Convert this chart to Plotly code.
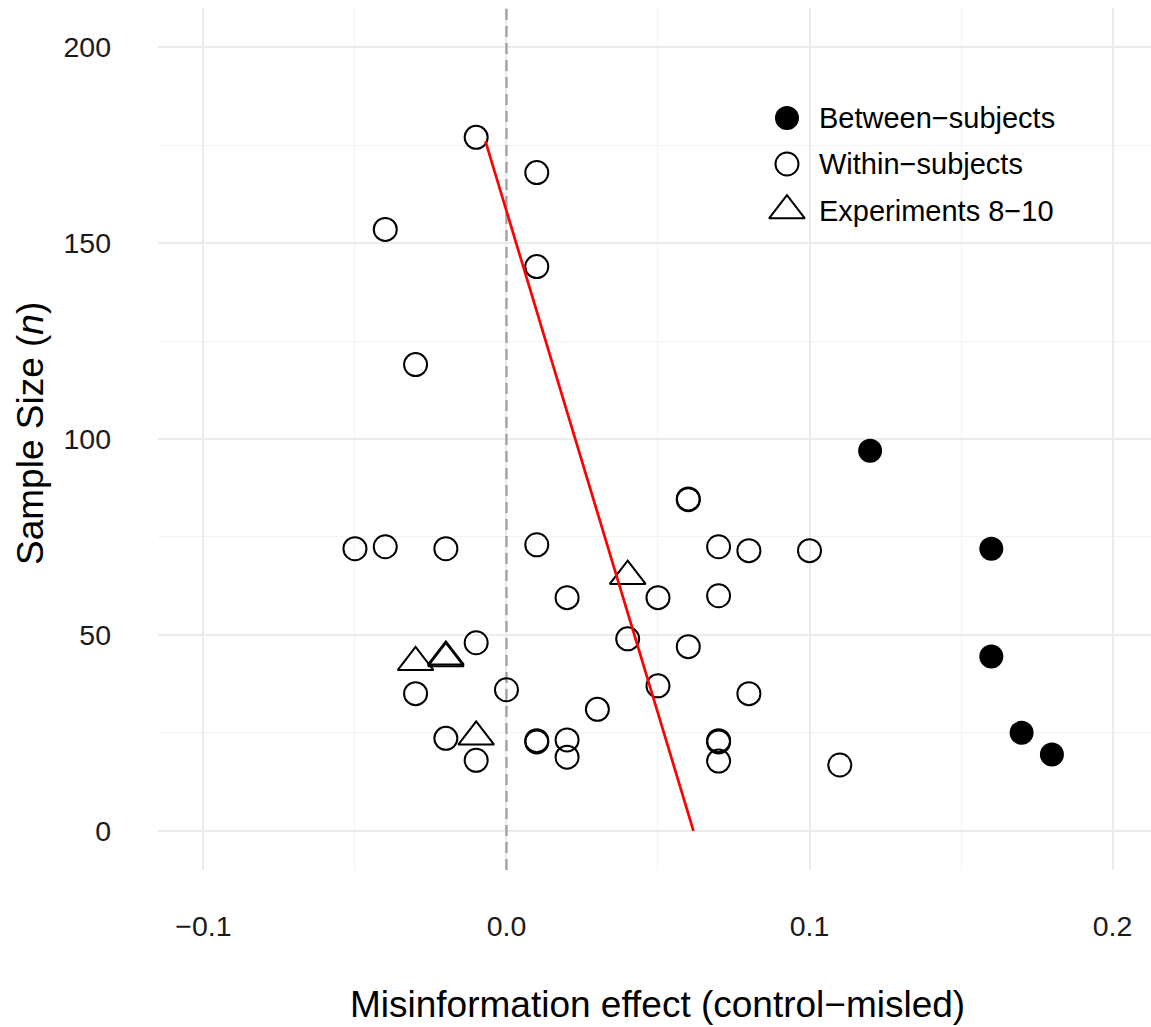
import plotly.graph_objects as go

# Misinformation effect (control - misled) and sample size per experiment
between_effect = [0.12, 0.16, 0.16, 0.17, 0.18]
between_n = [97, 72, 44.5, 25, 19.5]

within_effect = [-0.01, 0.01, -0.04, 0.01, -0.03,
                 -0.05, -0.04, -0.02, 0.01, 0.06, 0.06, 0.07, 0.08, 0.10,
                 0.02, 0.05, 0.07, -0.01, 0.04, 0.06,
                 -0.03, 0.00, 0.05, 0.08, 0.03,
                 -0.02, 0.01, 0.01, 0.02, 0.07, 0.07,
                 -0.01, 0.02, 0.07, 0.11]
within_n = [177, 168, 153.5, 144, 119,
            72, 72.5, 72, 73, 84.5, 84.7, 72.5, 71.5, 71.5,
            59.5, 59.5, 60, 48, 49, 47,
            35, 36, 37, 35, 31,
            23.6, 23, 22.7, 23.2, 23, 22.7,
            18, 18.8, 17.8, 16.8]

exp810_effect = [0.04, -0.03, -0.02, -0.02, -0.01]
exp810_n = [65, 43, 44, 44.4, 24]

# Fitted line: effect = intercept + slope * n
fit_intercept = 0.0617
fit_slope = -0.00039
fit_n = [0, 176]
fit_effect = [fit_intercept + fit_slope * n for n in fit_n]

# No-effect reference
null_effect = 0.0

x_range = [-0.115, 0.2127]
y_range = [-10, 210]
x_ticks = [-0.1, 0.0, 0.1, 0.2]
x_minor = [-0.05, 0.05, 0.15]
y_ticks = [0, 50, 100, 150, 200]
y_minor = [25, 75, 125, 175]

legend_labels = ["Between\u2212subjects", "Within\u2212subjects", "Experiments 8\u221210"]

FONT = "Liberation Sans, Arial, Helvetica, sans-serif"
CIRCLE_SIZE = 23
DOT_SIZE = 24
TRIANGLE_SIZE = 31

styles = [
    dict(symbol="circle", size=DOT_SIZE, color="black", line=dict(width=0)),
    dict(symbol="circle-open", size=CIRCLE_SIZE, color="black", line=dict(width=2, color="black")),
    dict(symbol="triangle-up-open", size=TRIANGLE_SIZE, color="black", line=dict(width=2, color="black")),
]


def from_frac(frac, rng):
    """Position inside the panel given as a fraction of the axis range."""
    return rng[0] + frac * (rng[1] - rng[0])


fig = go.Figure()

# dashed vertical line at zero effect, drawn first so it sits under the points
fig.add_trace(go.Scatter(x=[null_effect, null_effect], y=y_range, mode="lines",
                         line=dict(color="#A3A3A3", width=2.4, dash="11px,6px"),
                         hoverinfo="skip", name="zero"))

fig.add_trace(go.Scatter(x=within_effect, y=within_n, mode="markers",
                         name=legend_labels[1], marker=styles[1]))
fig.add_trace(go.Scatter(x=exp810_effect, y=exp810_n, mode="markers",
                         name=legend_labels[2], marker=styles[2]))
fig.add_trace(go.Scatter(x=between_effect, y=between_n, mode="markers",
                         name=legend_labels[0], marker=styles[0]))
fig.add_trace(go.Scatter(x=fit_effect, y=fit_n, mode="lines", name="fit",
                         line=dict(color="#FF0000", width=2.7)))

# Key in the upper right of the panel
key_fx = 0.6334
key_fy = [0.8724, 0.8190, 0.7650]
for fy, lab, st in zip(key_fy, legend_labels, styles):
    fig.add_trace(go.Scatter(
        x=[from_frac(key_fx, x_range)], y=[from_frac(fy, y_range)],
        mode="markers", marker=st, hoverinfo="skip", name=lab,
    ))
    fig.add_annotation(x=0.6636, y=fy, xref="paper", yref="paper", text=lab,
                       showarrow=False, xanchor="left", yanchor="middle",
                       font=dict(family=FONT, size=29, color="black"))

fig.add_annotation(x=0.5035, y=-0.1566, xref="paper", yref="paper",
                   text="Misinformation effect (control\u2212misled)", showarrow=False,
                   xanchor="center", yanchor="middle",
                   font=dict(family=FONT, size=37, color="black"))
fig.add_annotation(x=-0.1279, y=0.507, xref="paper", yref="paper",
                   text="Sample Size (<i>n</i>)", showarrow=False, textangle=-90,
                   xanchor="center", yanchor="middle",
                   font=dict(family=FONT, size=37, color="black"))

fig.update_layout(
    width=1151, height=1027,
    margin=dict(l=158, r=0, t=8, b=157, pad=0),
    paper_bgcolor="white", plot_bgcolor="white",
    font=dict(family=FONT, color="black"),
    showlegend=False,
    xaxis=dict(
        range=x_range, tickvals=x_ticks, tickformat=".1f",
        showgrid=True, gridcolor="#EBEBEB", gridwidth=1.5,
        minor=dict(tickvals=x_minor, showgrid=True, gridcolor="#F3F3F3", gridwidth=1),
        zeroline=False, showline=False, ticks="", ticklabelstandoff=36,
        tickfont=dict(family=FONT, size=28.5, color="#1a1a1a"),
    ),
    yaxis=dict(
        range=y_range, tickvals=y_ticks,
        showgrid=True, gridcolor="#EBEBEB", gridwidth=1.5,
        minor=dict(tickvals=y_minor, showgrid=True, gridcolor="#F3F3F3", gridwidth=1),
        zeroline=False, showline=False, ticks="", ticklabelstandoff=46,
        tickfont=dict(family=FONT, size=28.5, color="#1a1a1a"),
    ),
)

fig.write_html("out.html")
